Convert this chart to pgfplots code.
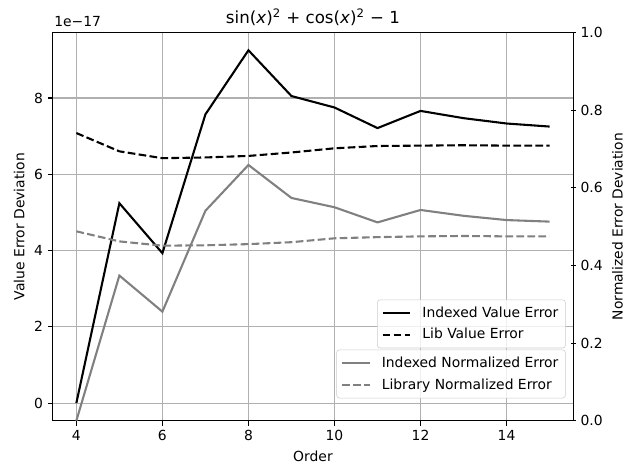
\documentclass[border=0pt]{standalone}
\usepackage{fontspec}
\setmainfont{DejaVu Sans}
\usepackage{pgfplots}
\pgfplotsset{compat=1.18}

\definecolor{gridgray}{HTML}{B0B0B0}
\definecolor{midgray}{HTML}{808080}
\definecolor{legedge}{HTML}{CCCCCC}

\newcommand{\tenbp}{\fontsize{10bp}{12bp}\selectfont}

\pgfplotsset{
  mplbase/.style={
    at={(37.94bp,34.06bp)}, anchor=south west,
    scale only axis, width=374.8bp, height=279.4bp,
    xmin=3.45, xmax=15.55,
    tick align=outside, major tick length=3.5bp,
    every tick/.style={black, line width=0.8bp},
    axis line style={line width=0.8bp},
    tick label style={font=\tenbp},
    label style={font=\tenbp},
    /pgf/number format/assume math mode=true,
    legend cell align=left,
    legend style={draw=legedge, rounded corners=2bp, fill=white,
      fill opacity=0.8, text opacity=1, font=\tenbp, anchor=south east,
      inner xsep=3bp, inner ysep=3bp, row sep=2.5bp,
      nodes={inner sep=2bp, text depth=0.15em}},
  },
  mpldash/.style={dash pattern=on 5.55bp off 2.4bp},
}

\begin{document}
\begin{tikzpicture}
\path[use as bounding box] (0,0) rectangle (449.28bp,336.96bp);

% left axis: value error (units of 1e-17)
\begin{axis}[mplbase,
  ymin=-0.4625, ymax=9.7125,
  xtick={4,6,8,10,12,14}, ytick={0,2,4,6,8},
  xtick pos=bottom, ytick pos=left,
  grid=major, grid style={gridgray, line width=0.8bp},
  xlabel={Order}, ylabel={Value Error Deviation},
  title={sin(\textit{x})\textsuperscript{2}\hspace{0.32em}+\hspace{0.32em}cos(\textit{x})\textsuperscript{2}\hspace{0.32em}−\hspace{0.32em}1},
  every axis title/.style={at={(0.5,1)}, anchor=base, inner sep=0pt, yshift=6.5bp,
    font=\fontsize{12bp}{14bp}\selectfont},
  legend style={at={(0.9854,0.1866)}},
  legend image code/.code={\draw[#1] (0bp,0bp) -- (20bp,0bp); \path (26bp,0bp);},
  after end axis/.code={
    \node[anchor=base west, inner sep=0pt, font=\tenbp]
      at ([xshift=1bp, yshift=4.3bp]rel axis cs:0,1) {1e−17};
  },
]
\addplot[black, line width=1.5bp] coordinates {
  (4,0) (5,5.24) (6,3.93) (7,7.57) (8,9.25) (9,8.05)
  (10,7.75) (11,7.21) (12,7.66) (13,7.47) (14,7.33) (15,7.25)};
\addplot[black, line width=1.5bp, mpldash] coordinates {
  (4,7.08) (5,6.60) (6,6.42) (7,6.44) (8,6.48) (9,6.57)
  (10,6.68) (11,6.74) (12,6.75) (13,6.76) (14,6.75) (15,6.75)};
\legend{Indexed Value Error, Lib Value Error}
\end{axis}

% right axis: normalized error
\begin{axis}[mplbase,
  ymin=0, ymax=1,
  axis x line=none, axis y line=right, y axis line style={-},
  ytick={0,0.2,0.4,0.6,0.8,1},
  yticklabel style={/pgf/number format/.cd, fixed, fixed zerofill, precision=1},
  ylabel={Normalized Error Deviation},
  legend style={at={(0.9854,0.0577)}},
  legend image code/.code={\draw[#1] (0bp,0bp) -- (20bp,0bp); \path (26bp,0bp);},
]
\addplot[midgray, line width=1.5bp] coordinates {
  (4,0) (5,0.374) (6,0.281) (7,0.541) (8,0.659) (9,0.574)
  (10,0.550) (11,0.511) (12,0.543) (13,0.528) (14,0.517) (15,0.513)};
\addplot[midgray, line width=1.5bp, mpldash] coordinates {
  (4,0.488) (5,0.462) (6,0.451) (7,0.452) (8,0.455) (9,0.460)
  (10,0.470) (11,0.473) (12,0.475) (13,0.476) (14,0.475) (15,0.475)};
\legend{Indexed Normalized Error, Library Normalized Error}
\end{axis}
\end{tikzpicture}
\end{document}
